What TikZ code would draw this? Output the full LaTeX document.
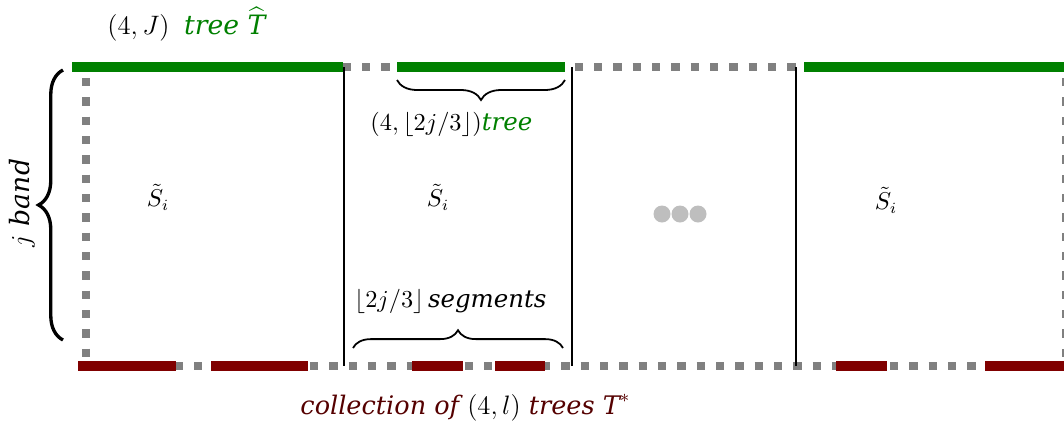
\documentclass[tikz,border=0pt]{standalone}
\usepackage{fontspec}
\usepackage{amsmath}
\usetikzlibrary{decorations.pathreplacing}
\newfontfamily\bandfont{DejaVu Serif}
\definecolor{treegreen}{RGB}{0,128,0}
\definecolor{segred}{RGB}{128,0,0}
\definecolor{textred}{RGB}{85,0,0}
\definecolor{bordergray}{RGB}{128,128,128}
\definecolor{dotgray}{RGB}{190,190,190}

\begin{document}
\begin{tikzpicture}[x=0.45pt,y=0.45pt,yscale=-1,xscale=1,
  border/.style={draw=bordergray,line width=4pt,dash pattern=on 3.75pt off 4.95pt},
  greenseg/.style={draw=treegreen,line width=4.2pt},
  redseg/.style={draw=segred,line width=4.2pt},
  divider/.style={draw=black,line width=0.9pt},
  curly/.style={decorate,decoration={brace,amplitude=#1},line width=0.8pt},
  lbl/.style={anchor=base west,inner sep=0pt}]
\useasboundingbox (0,0) rectangle (1064,423);

% Shape: band border (gray dashed)
\coordinate (topL) at (72,67);
\coordinate (topR) at (1064,67);
\coordinate (botL) at (78,366);
\coordinate (botR) at (1064,366);
\draw[border] (topL) -- (topR);
\draw[border] (botL) -- (botR);
\draw[border] (86,78) -- (86,360);
\draw[border] (1066,78) -- (1066,360);

% Straight Lines: tree pieces on top
\foreach \a/\b in {72/343,397/565,804/1064}
  \draw[greenseg] (\a,67) -- (\b,67);
% Straight Lines: tree pieces at bottom
\foreach \a/\b in {78/176,211/308,412/463,495/545,836/887,985/1064}
  \draw[redseg] (\a,366) -- (\b,366);

% Straight Lines: dividers
\foreach \x in {344,572,796}
  \draw[divider] (\x,67) -- (\x,366);

% Braces
\draw[curly=9pt] (565,80) -- (397,80);
\draw[curly=8pt] (353,348) -- (563,348);
\draw[curly=11pt,line width=1.5pt] (63,340) -- (63,70);

% Shape: dots
\foreach \x in {662,680,698}
  \fill[dotgray] (\x,214) circle (8.5);

% Text Node
\node[lbl] (hatlabel) at (107,34) {\fontsize{12}{14}\selectfont$(4,J)$\hspace{0.55em}\textcolor{treegreen}{\bandfont\itshape tree $\widehat{\mbox{\bandfont\itshape T}}$}};
% Text Node
\node[lbl] (treelabel) at (370,130) {\fontsize{11}{13}\selectfont$(4,\lfloor 2j/3\rfloor)$\textcolor{treegreen}{\bandfont\itshape tree}};
% Text Node
\node[lbl] (seglabel) at (354,307) {\fontsize{11}{13}\selectfont$\lfloor 2j/3\rfloor$\,{\bandfont\itshape segments}};
% Text Node
\node[lbl,text=textred] (forestlabel) at (300,414) {\fontsize{11.5}{13}\selectfont\bandfont\itshape collection of \textcolor{black}{$(4,l)$} trees $\mbox{\bandfont\itshape T}^{*}$};
% Text Node
\node[rotate=90] (bandlabel) at (22,203) {\fontsize{12}{14}\selectfont$j$ {\bandfont\itshape band}};
% Text Node
\node (cellA) at (158,197) {\fontsize{10.5}{12}\selectfont$\tilde{S}_i$};
\node (cellB) at (438,197) {\fontsize{10.5}{12}\selectfont$\tilde{S}_i$};
\node (cellC) at (886,200) {\fontsize{10.5}{12}\selectfont$\tilde{S}_i$};

\end{tikzpicture}
\end{document}
